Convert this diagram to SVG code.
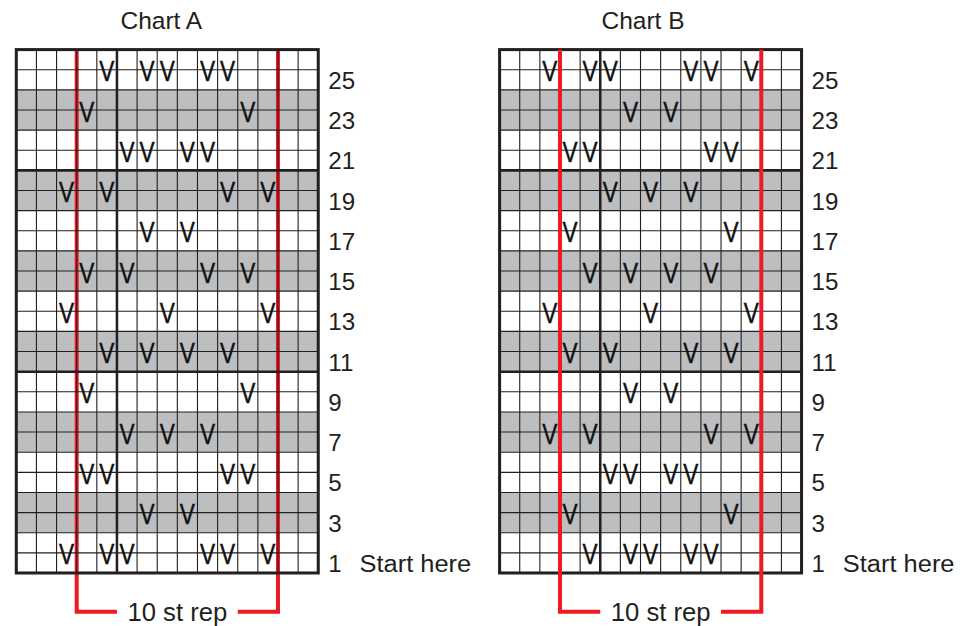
<svg xmlns="http://www.w3.org/2000/svg" xmlns:xlink="http://www.w3.org/1999/xlink" width="974" height="626" viewBox="0 0 974 626">
<style>
text{font-family:"Liberation Sans",Arial,sans-serif;fill:#231f20}
.title{font-size:24.5px;text-anchor:middle}
.lbl{font-size:24px}
.rep{font-size:25.5px;text-anchor:middle}
.v{font-size:30px;text-anchor:middle;fill:#111;stroke:#111;stroke-width:0.45}
.thin{fill:none;stroke:#231f20;stroke-width:1.1}
.thick{fill:none;stroke:#231f20;stroke-width:2.5}
.border{fill:none;stroke:#231f20;stroke-width:3}
.red{fill:none;stroke:#ed1c24;stroke-width:4;stroke-linejoin:miter}
.shade{fill:#bcbec0}
</style>
<defs>
<g id="shade">
<rect x="0" y="0" width="300" height="520" fill="#fff"/>
<rect class="shade" x="0" y="40" width="300" height="40"/>
<rect class="shade" x="0" y="120" width="300" height="40"/>
<rect class="shade" x="0" y="200" width="300" height="40"/>
<rect class="shade" x="0" y="280" width="300" height="40"/>
<rect class="shade" x="0" y="360" width="300" height="40"/>
<rect class="shade" x="0" y="440" width="300" height="40"/>
</g>
<g id="lines">
<path class="thin" d="M20,0V520M40,0V520M60,0V520M80,0V520M120,0V520M140,0V520M160,0V520M180,0V520M200,0V520M220,0V520M240,0V520M260,0V520M280,0V520"/>
<path class="thin" d="M0,20H300M0,40H300M0,60H300M0,80H300M0,100H300M0,140H300M0,160H300M0,180H300M0,200H300M0,220H300M0,240H300M0,260H300M0,280H300M0,300H300M0,340H300M0,360H300M0,380H300M0,400H300M0,420H300M0,440H300M0,460H300M0,480H300M0,500H300"/>
<path class="thick" d="M100,0V520M0,120H300M0,320H300"/>
<rect class="border" x="0" y="0" width="300" height="520"/>
</g>
<g id="labels">
<text class="lbl" x="310" y="39">25</text>
<text class="lbl" x="310" y="79">23</text>
<text class="lbl" x="310" y="119">21</text>
<text class="lbl" x="310" y="159">19</text>
<text class="lbl" x="310" y="199">17</text>
<text class="lbl" x="310" y="239">15</text>
<text class="lbl" x="310" y="279">13</text>
<text class="lbl" x="310" y="319">11</text>
<text class="lbl" x="310" y="359">9</text>
<text class="lbl" x="310" y="399">7</text>
<text class="lbl" x="310" y="439">5</text>
<text class="lbl" x="310" y="479">3</text>
<text class="lbl" x="310" y="519">1</text>
<text class="lbl" x="341" y="519" textLength="111" lengthAdjust="spacingAndGlyphs">Start here</text>
</g>
<g id="bracket">
<path class="red" d="M60,0V558.6H100M220,558.6H260V0"/>
<text class="rep" x="160" y="567.4">10 st rep</text>
</g>
</defs>

<text class="title" x="161.3" y="29.3">Chart A</text>
<text class="title" x="643" y="29.3">Chart B</text>

<g id="chart-a" transform="translate(16.3,49.6) scale(1.0065)">
<use xlink:href="#shade"/>
<use xlink:href="#bracket"/>
<use xlink:href="#lines"/>
<g id="stitches-a" transform="scale(0.75,1)">
<text class="v" x="120" y="31.5">V</text><text class="v" x="173.33" y="31.5">V</text><text class="v" x="200" y="31.5">V</text><text class="v" x="253.33" y="31.5">V</text><text class="v" x="280" y="31.5">V</text>
<text class="v" x="93.33" y="71.5">V</text><text class="v" x="306.67" y="71.5">V</text>
<text class="v" x="146.67" y="111.5">V</text><text class="v" x="173.33" y="111.5">V</text><text class="v" x="226.67" y="111.5">V</text><text class="v" x="253.33" y="111.5">V</text>
<text class="v" x="66.67" y="151.5">V</text><text class="v" x="120" y="151.5">V</text><text class="v" x="280" y="151.5">V</text><text class="v" x="333.33" y="151.5">V</text>
<text class="v" x="173.33" y="191.5">V</text><text class="v" x="226.67" y="191.5">V</text>
<text class="v" x="93.33" y="231.5">V</text><text class="v" x="146.67" y="231.5">V</text><text class="v" x="253.33" y="231.5">V</text><text class="v" x="306.67" y="231.5">V</text>
<text class="v" x="66.67" y="271.5">V</text><text class="v" x="200" y="271.5">V</text><text class="v" x="333.33" y="271.5">V</text>
<text class="v" x="120" y="311.5">V</text><text class="v" x="173.33" y="311.5">V</text><text class="v" x="226.67" y="311.5">V</text><text class="v" x="280" y="311.5">V</text>
<text class="v" x="93.33" y="351.5">V</text><text class="v" x="306.67" y="351.5">V</text>
<text class="v" x="146.67" y="391.5">V</text><text class="v" x="200" y="391.5">V</text><text class="v" x="253.33" y="391.5">V</text>
<text class="v" x="93.33" y="431.5">V</text><text class="v" x="120" y="431.5">V</text><text class="v" x="280" y="431.5">V</text><text class="v" x="306.67" y="431.5">V</text>
<text class="v" x="173.33" y="471.5">V</text><text class="v" x="226.67" y="471.5">V</text>
<text class="v" x="66.67" y="511.5">V</text><text class="v" x="120" y="511.5">V</text><text class="v" x="146.67" y="511.5">V</text><text class="v" x="253.33" y="511.5">V</text><text class="v" x="280" y="511.5">V</text><text class="v" x="333.33" y="511.5">V</text>
</g>
<use xlink:href="#labels"/>
</g>

<g id="chart-b" transform="translate(499.6,49.6) scale(1.0065)">
<use xlink:href="#shade"/>
<use xlink:href="#lines"/>
<use xlink:href="#bracket"/>
<g id="stitches-b" transform="scale(0.75,1)">
<text class="v" x="66.67" y="31.5">V</text><text class="v" x="120" y="31.5">V</text><text class="v" x="146.67" y="31.5">V</text><text class="v" x="253.33" y="31.5">V</text><text class="v" x="280" y="31.5">V</text><text class="v" x="333.33" y="31.5">V</text>
<text class="v" x="173.33" y="71.5">V</text><text class="v" x="226.67" y="71.5">V</text>
<text class="v" x="93.33" y="111.5">V</text><text class="v" x="120" y="111.5">V</text><text class="v" x="280" y="111.5">V</text><text class="v" x="306.67" y="111.5">V</text>
<text class="v" x="146.67" y="151.5">V</text><text class="v" x="200" y="151.5">V</text><text class="v" x="253.33" y="151.5">V</text>
<text class="v" x="93.33" y="191.5">V</text><text class="v" x="306.67" y="191.5">V</text>
<text class="v" x="120" y="231.5">V</text><text class="v" x="173.33" y="231.5">V</text><text class="v" x="226.67" y="231.5">V</text><text class="v" x="280" y="231.5">V</text>
<text class="v" x="66.67" y="271.5">V</text><text class="v" x="200" y="271.5">V</text><text class="v" x="333.33" y="271.5">V</text>
<text class="v" x="93.33" y="311.5">V</text><text class="v" x="146.67" y="311.5">V</text><text class="v" x="253.33" y="311.5">V</text><text class="v" x="306.67" y="311.5">V</text>
<text class="v" x="173.33" y="351.5">V</text><text class="v" x="226.67" y="351.5">V</text>
<text class="v" x="66.67" y="391.5">V</text><text class="v" x="120" y="391.5">V</text><text class="v" x="280" y="391.5">V</text><text class="v" x="333.33" y="391.5">V</text>
<text class="v" x="146.67" y="431.5">V</text><text class="v" x="173.33" y="431.5">V</text><text class="v" x="226.67" y="431.5">V</text><text class="v" x="253.33" y="431.5">V</text>
<text class="v" x="93.33" y="471.5">V</text><text class="v" x="306.67" y="471.5">V</text>
<text class="v" x="120" y="511.5">V</text><text class="v" x="173.33" y="511.5">V</text><text class="v" x="200" y="511.5">V</text><text class="v" x="253.33" y="511.5">V</text><text class="v" x="280" y="511.5">V</text>
</g>
<use xlink:href="#labels"/>
</g>
</svg>
